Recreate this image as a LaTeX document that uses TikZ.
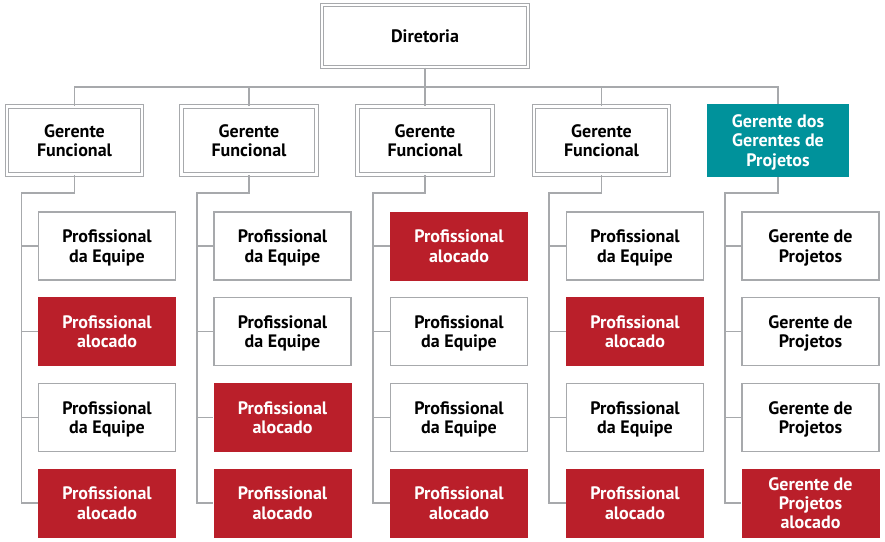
\documentclass[tikz,border=0pt]{standalone}
\usepackage{fontspec}
\setmainfont{PT Sans}
\usetikzlibrary{positioning}
\definecolor{linegray}{HTML}{A7A9AC}
\definecolor{alocred}{HTML}{BA1F2A}
\definecolor{gerteal}{HTML}{00929B}

\begin{document}
\begin{tikzpicture}[x=1pt, y=-1pt,
		every node/.style={font=\fontsize{18}{19.2}\selectfont\bfseries, align=center, inner sep=0pt, text depth=0pt},
		chefe/.style={draw=linegray, line width=1.2pt, double=white, double distance=2.4pt,
			minimum width=135pt, minimum height=68pt},
		equipe/.style={draw=linegray, line width=1.3pt, fill=white,
			minimum width=137pt, minimum height=68pt},
		alocado/.style={fill=alocred, text=white, minimum width=138pt, minimum height=69pt},
		liga/.style={draw=linegray, line width=1.4pt}]
			\useasboundingbox (0,0) rectangle (885,541);
			% topo
			\node[chefe, minimum width=206pt, minimum height=62pt] (dir) at (425,36) {Diretoria};
			\node[chefe] (gf1) at (74.5,140.5) {Gerente\\Funcional};
			\node[chefe] (gf2) at (249,140.5) {Gerente\\Funcional};
			\node[chefe] (gf3) at (425,140.5) {Gerente\\Funcional};
			\node[chefe] (gf4) at (601.5,140.5) {Gerente\\Funcional};
			\node[fill=gerteal, text=white, minimum width=142pt, minimum height=73pt] (gp) at (778,140.5) {Gerente dos\\Gerentes de\\Projetos};
			\coordinate (h) at (425,87);
			\draw[liga] (dir.south) -- (h);
			\draw[liga] (gf1.north) |- (h) -| (gp.north);
			\draw[liga] (gf2.north) -- (gf2.north |- h);
			\draw[liga] (gf3.north) -- (gf3.north |- h);
			\draw[liga] (gf4.north) -- (gf4.north |- h);
			% coluna 1
			\node[equipe] (c11) at (107,246) {Profissional\\da Equipe};
			\node[alocado] (c12) at (107,331.5) {Profissional\\alocado};
			\node[equipe] (c13) at (107,417.5) {Profissional\\da Equipe};
			\node[alocado] (c14) at (107,503) {Profissional\\alocado};
			\coordinate (t1) at (21.5,193);
			\draw[liga] (gf1.south) |- (t1) -- (t1 |- c14.west) -- (c14.west);
			\draw[liga] (t1 |- c11.west) -- (c11.west);
			\draw[liga] (t1 |- c12.west) -- (c12.west);
			\draw[liga] (t1 |- c13.west) -- (c13.west);
			% coluna 2
			\node[equipe] (c21) at (282.5,246) {Profissional\\da Equipe};
			\node[equipe] (c22) at (282.5,331.5) {Profissional\\da Equipe};
			\node[alocado] (c23) at (282.5,417.5) {Profissional\\alocado};
			\node[alocado] (c24) at (282.5,503) {Profissional\\alocado};
			\coordinate (t2) at (197,193);
			\draw[liga] (gf2.south) |- (t2) -- (t2 |- c24.west) -- (c24.west);
			\draw[liga] (t2 |- c21.west) -- (c21.west);
			\draw[liga] (t2 |- c22.west) -- (c22.west);
			\draw[liga] (t2 |- c23.west) -- (c23.west);
			% coluna 3
			\node[alocado] (c31) at (459,246) {Profissional\\alocado};
			\node[equipe] (c32) at (459,331.5) {Profissional\\da Equipe};
			\node[equipe] (c33) at (459,417.5) {Profissional\\da Equipe};
			\node[alocado] (c34) at (459,503) {Profissional\\alocado};
			\coordinate (t3) at (373,193);
			\draw[liga] (gf3.south) |- (t3) -- (t3 |- c34.west) -- (c34.west);
			\draw[liga] (t3 |- c31.west) -- (c31.west);
			\draw[liga] (t3 |- c32.west) -- (c32.west);
			\draw[liga] (t3 |- c33.west) -- (c33.west);
			% coluna 4
			\node[equipe] (c41) at (635,246) {Profissional\\da Equipe};
			\node[alocado] (c42) at (635,331.5) {Profissional\\alocado};
			\node[equipe] (c43) at (635,417.5) {Profissional\\da Equipe};
			\node[alocado] (c44) at (635,503) {Profissional\\alocado};
			\coordinate (t4) at (549,193);
			\draw[liga] (gf4.south) |- (t4) -- (t4 |- c44.west) -- (c44.west);
			\draw[liga] (t4 |- c41.west) -- (c41.west);
			\draw[liga] (t4 |- c42.west) -- (c42.west);
			\draw[liga] (t4 |- c43.west) -- (c43.west);
			% coluna 5
			\node[equipe] (c51) at (810.5,246) {Gerente de\\Projetos};
			\node[equipe] (c52) at (810.5,331.5) {Gerente de\\Projetos};
			\node[equipe] (c53) at (810.5,417.5) {Gerente de\\Projetos};
			\node[alocado] (c54) at (810.5,503) {Gerente de\\Projetos\\alocado};
			\coordinate (t5) at (725,193);
			\draw[liga] (gp.south) |- (t5) -- (t5 |- c54.west) -- (c54.west);
			\draw[liga] (t5 |- c51.west) -- (c51.west);
			\draw[liga] (t5 |- c52.west) -- (c52.west);
			\draw[liga] (t5 |- c53.west) -- (c53.west);
		\end{tikzpicture}
\end{document}
